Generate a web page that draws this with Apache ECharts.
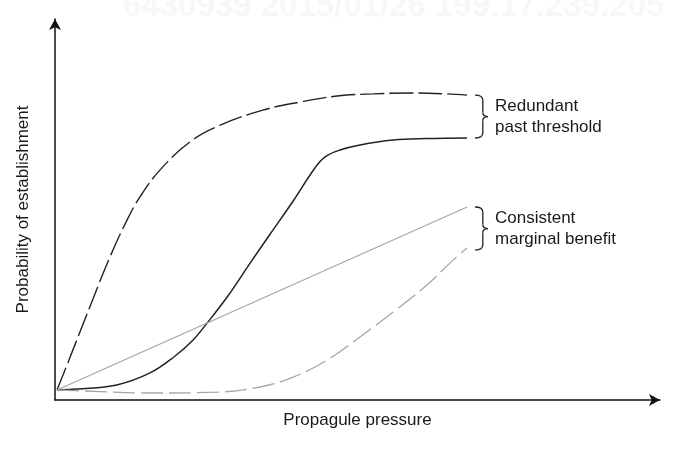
<!DOCTYPE html>
<html><head><meta charset="utf-8">
<script src="https://cdn.jsdelivr.net/npm/echarts@6/dist/echarts.min.js"></script>
<style>html,body{margin:0;padding:0;background:#fff}#c{width:680px;height:449px}</style>
</head><body><div id="c"></div>
<script>
// Axis titles and annotation labels
const xAxisName = 'Propagule pressure';
const yAxisName = 'Probability of establishment';
const upperLabel = ['Redundant', 'past threshold'];
const lowerLabel = ['Consistent', 'marginal benefit'];
const watermark = '6430939 2015/01/26 199.17.239.205';

// Black dashed: rapid saturation
const fastX = [0, 3.2, 8, 12.9, 17.1, 20.2, 25.1, 32.4, 39.8, 50.2, 59.3, 68.3, 77.1, 86.1, 95.1, 100];
const fastY = [0, 11, 27.7, 44.3, 56.7, 64.3, 73.3, 82.7, 88.3, 93.3, 96, 98, 98.7, 99, 98.7, 98.3];

// Black solid: threshold (sigmoid)
const sigX = [0, 4.9, 14.6, 22.7, 28.5, 33.2, 36.6, 41.5, 47.1, 52, 57.6, 62.9, 65.4, 69, 73.9, 82, 90.2, 100];
const sigY = [0, 0.3, 1.7, 5.7, 11, 16.7, 22.3, 31, 42.3, 52, 63, 74, 77.7, 80, 81.7, 83.3, 83.8, 84];

// Grey solid: linear
const linX = [0, 100];
const linY = [0, 61];

// Grey dashed: accelerating
const convX = [0, 6.3, 22.7, 39, 49.5, 57.6, 65.9, 73.9, 82, 90.2, 96.6, 100];
const convY = [0, -0.3, -1, -0.7, 1, 4.3, 10, 17.7, 26, 35, 43.3, 47.3];

const FONT = '"Liberation Sans", Arial, Helvetica, sans-serif';
const TEXT_COLOR = '#1a1a1a';
function pairs(xs, ys) { return xs.map((x, i) => [x, ys[i]]); }

const chart = echarts.init(document.getElementById('c'), null, { renderer: 'canvas' });

const axisCommon = {
  type: 'value',
  nameLocation: 'middle',
  nameTextStyle: { fontFamily: FONT, fontSize: 17, color: TEXT_COLOR },
  axisLine: { onZero: false, symbol: ['none', 'arrow'], symbolSize: [9, 11], lineStyle: { color: '#111', width: 1.5 } },
  axisTick: { show: false },
  axisLabel: { show: false },
  splitLine: { show: false }
};

const lineSeries = (name, xs, ys, color, width, type) => ({
  name, type: 'line', data: pairs(xs, ys), showSymbol: false, smooth: 0.4,
  lineStyle: { color, width, type }, silent: true, z: 3
});

chart.setOption({
  animation: false,
  backgroundColor: '#ffffff',
  grid: { left: 55, right: 20, top: 19, bottom: 49 },
  xAxis: Object.assign({}, axisCommon, { min: -0.49, max: 147.07, name: xAxisName, nameGap: 12 }),
  yAxis: Object.assign({}, axisCommon, { min: -3.33, max: 123.67, name: yAxisName, nameGap: 23 }),
  series: [
    lineSeries('fast', fastX, fastY, '#222', 1.4, [24, 5]),
    lineSeries('threshold', sigX, sigY, '#222', 1.5, 'solid'),
    lineSeries('linear', linX, linY, '#a6a6a6', 1.3, 'solid'),
    lineSeries('accelerating', convX, convY, '#a6a6a6', 1.3, [22, 6])
  ]
});

const braceStyle = { stroke: '#222', lineWidth: 1.3, fill: null };
function brace(x0, y1, y2, w) {
  const m = (y1 + y2) / 2, xv = x0 + w * 0.6, xt = x0 + w;
  const q = (xa, ya, cx, cy, xb, yb) => ({ type: 'bezierCurve', shape: { x1: xa, y1: ya, cpx1: cx, cpy1: cy, x2: xb, y2: yb }, style: braceStyle });
  const l = (xa, ya, xb, yb) => ({ type: 'line', shape: { x1: xa, y1: ya, x2: xb, y2: yb }, style: braceStyle });
  return { type: 'group', children: [
    q(x0, y1, xv, y1, xv, y1 + 5),
    l(xv, y1 + 5, xv, m - 4),
    q(xv, m - 4, xv, m, xt, m),
    q(xt, m, xv, m, xv, m + 4),
    l(xv, m + 4, xv, y2 - 5),
    q(xv, y2 - 5, xv, y2, x0, y2)
  ] };
}

function endPx(xs, ys) { return chart.convertToPixel({ gridIndex: 0 }, [xs[xs.length - 1], ys[ys.length - 1]]); }
const a = endPx(fastX, fastY), b = endPx(sigX, sigY), c = endPx(linX, linY), d = endPx(convX, convY);
const bx = a[0] + 8, bw = 13;
const u1 = Math.min(a[1], b[1]), u2 = Math.max(a[1], b[1]);
const l1 = Math.min(c[1], d[1]), l2 = Math.max(c[1], d[1]) + 2;

chart.setOption({
  graphic: [
    { type: 'text', z: 0, style: { text: watermark, x: 123, y: 7, font: 'bold 33px ' + FONT, fill: '#f5f8f6', verticalAlign: 'middle' } },
    brace(bx, u1, u2, bw),
    brace(bx, l1, l2, bw),
    { type: 'text', style: { text: upperLabel.join('\n'), x: bx + bw + 7, y: (u1 + u2) / 2, font: '17px ' + FONT, fill: TEXT_COLOR, lineHeight: 21, verticalAlign: 'middle' } },
    { type: 'text', style: { text: lowerLabel.join('\n'), x: bx + bw + 7, y: (l1 + l2) / 2, font: '17px ' + FONT, fill: TEXT_COLOR, lineHeight: 21, verticalAlign: 'middle' } }
  ]
});
</script></body></html>
